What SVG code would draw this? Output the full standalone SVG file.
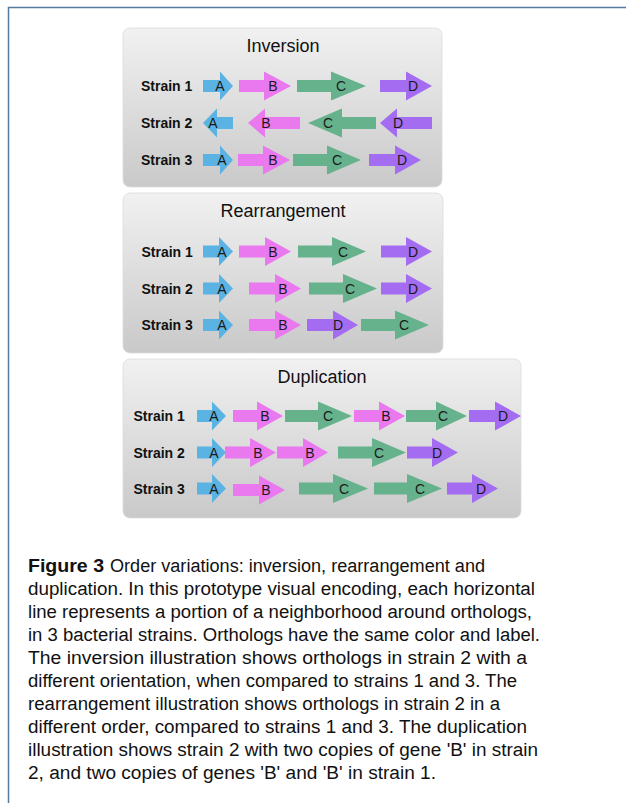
<svg xmlns="http://www.w3.org/2000/svg" width="626" height="803" viewBox="0 0 626 803">
<defs>
<linearGradient id="pg" x1="0" y1="0" x2="0" y2="1">
<stop offset="0" stop-color="#f1f1f1"/>
<stop offset="1" stop-color="#c9c9c9"/>
</linearGradient>
<style>
.panel{fill:url(#pg);stroke:#dcdcdc;stroke-width:0.8}
.title{font-family:"Liberation Sans",Arial,sans-serif;font-size:18px;fill:#111;text-anchor:middle}
.strain{font-family:"Liberation Sans",Arial,sans-serif;font-size:14px;font-weight:bold;fill:#111}
.lbl{font-family:"Liberation Sans",Arial,sans-serif;font-size:14px;fill:#1a1a1a;text-anchor:middle}
.A{fill:#5ab3e3}.B{fill:#ea78ef}.C{fill:#66b28c}.D{fill:#a46cf0}
.cap{font-family:"Liberation Sans",Arial,sans-serif;font-size:18px;fill:#111}
.capb{font-weight:bold}
.frame{stroke:#56799e;stroke-width:1.5;fill:none}
</style>
</defs>
<rect width="626" height="803" fill="#fff"/>
<path class="frame" d="M8.5,803 V7.5 H626"/>
<g id="connectors"/>

<g id="inversion">
<rect class="panel" x="123" y="28" width="319" height="159" rx="7"/>
<text class="title" x="283" y="52">Inversion</text>
<text class="strain" x="141" y="91">Strain 1</text>
<text class="strain" x="141" y="128">Strain 2</text>
<text class="strain" x="141" y="165">Strain 3</text>
<g id="inv-s1-A"><path class="A" d="M203,80V92H220V100.5L233,86L220,71.5V80Z"/><text class="lbl" x="220" y="91">A</text></g>
<g id="inv-s1-B"><path class="B" d="M239,80V92H264V100.5L291,86L264,71.5V80Z"/><text class="lbl" x="273" y="91">B</text></g>
<g id="inv-s1-C"><path class="C" d="M297,80V92H331V100.5L366,86L331,71.5V80Z"/><text class="lbl" x="341" y="91">C</text></g>
<g id="inv-s1-D"><path class="D" d="M380,80V92H406V100.5L432,86L406,71.5V80Z"/><text class="lbl" x="413" y="91">D</text></g>
<g id="inv-s2-A"><path class="A" d="M233,117V129H217V137.5L203,123L217,108.5V117Z"/><text class="lbl" x="213" y="128">A</text></g>
<g id="inv-s2-B"><path class="B" d="M300,117V129H265V137.5L248,123L265,108.5V117Z"/><text class="lbl" x="266" y="128">B</text></g>
<g id="inv-s2-C"><path class="C" d="M376,117V129H342V137.5L308,123L342,108.5V117Z"/><text class="lbl" x="328" y="128">C</text></g>
<g id="inv-s2-D"><path class="D" d="M432,117V129H397V137.5L380,123L397,108.5V117Z"/><text class="lbl" x="398" y="128">D</text></g>
<g id="inv-s3-A"><path class="A" d="M203,154V166H220V174.5L233,160L220,145.5V154Z"/><text class="lbl" x="222" y="165">A</text></g>
<g id="inv-s3-B"><path class="B" d="M238,154V166H263V174.5L290,160L263,145.5V154Z"/><text class="lbl" x="273" y="165">B</text></g>
<g id="inv-s3-C"><path class="C" d="M293,154V166H327V174.5L361,160L327,145.5V154Z"/><text class="lbl" x="337" y="165">C</text></g>
<g id="inv-s3-D"><path class="D" d="M369,154V166H395V174.5L421,160L395,145.5V154Z"/><text class="lbl" x="402" y="165">D</text></g>
</g>

<g id="rearrangement">
<rect class="panel" x="123" y="193" width="320" height="160" rx="7"/>
<text class="title" x="283" y="217">Rearrangement</text>
<text class="strain" x="141.5" y="256.5">Strain 1</text>
<text class="strain" x="141.5" y="293.5">Strain 2</text>
<text class="strain" x="141.5" y="330">Strain 3</text>
<g id="rea-s1-A"><path class="A" d="M203,245.5V257.5H219V266L233,251.5L219,237V245.5Z"/><text class="lbl" x="222" y="256.5">A</text></g>
<g id="rea-s1-B"><path class="B" d="M239,245.5V257.5H265V266L291,251.5L265,237V245.5Z"/><text class="lbl" x="273" y="256.5">B</text></g>
<g id="rea-s1-C"><path class="C" d="M298,245.5V257.5H332V266L366,251.5L332,237V245.5Z"/><text class="lbl" x="343" y="256.5">C</text></g>
<g id="rea-s1-D"><path class="D" d="M381,245.5V257.5H406V266L432,251.5L406,237V245.5Z"/><text class="lbl" x="413" y="256.5">D</text></g>
<g id="rea-s2-A"><path class="A" d="M203,282.5V294.5H219V303L233,288.5L219,274V282.5Z"/><text class="lbl" x="222" y="293.5">A</text></g>
<g id="rea-s2-B"><path class="B" d="M249,282.5V294.5H275V303L301,288.5L275,274V282.5Z"/><text class="lbl" x="283" y="293.5">B</text></g>
<g id="rea-s2-C"><path class="C" d="M309,282.5V294.5H343V303L377,288.5L343,274V282.5Z"/><text class="lbl" x="350" y="293.5">C</text></g>
<g id="rea-s2-D"><path class="D" d="M381,282.5V294.5H406V303L432,288.5L406,274V282.5Z"/><text class="lbl" x="413" y="293.5">D</text></g>
<g id="rea-s3-A"><path class="A" d="M203,319V331H219V339.5L233,325L219,310.5V319Z"/><text class="lbl" x="222" y="330">A</text></g>
<g id="rea-s3-B"><path class="B" d="M249,319V331H275V339.5L301,325L275,310.5V319Z"/><text class="lbl" x="283" y="330">B</text></g>
<g id="rea-s3-D"><path class="D" d="M307,319V331H333V339.5L358,325L333,310.5V319Z"/><text class="lbl" x="338" y="330">D</text></g>
<g id="rea-s3-C"><path class="C" d="M361,319V331H395V339.5L429,325L395,310.5V319Z"/><text class="lbl" x="404" y="330">C</text></g>
</g>

<g id="duplication">
<rect class="panel" x="123" y="359" width="398" height="159" rx="7"/>
<text class="title" x="322" y="383">Duplication</text>
<text class="strain" x="133.5" y="421">Strain 1</text>
<text class="strain" x="133.5" y="457.5">Strain 2</text>
<text class="strain" x="133.5" y="493.5">Strain 3</text>
<g id="dup-s1-A"><path class="A" d="M197,410V422H212V430.5L226,416L212,401.5V410Z"/><text class="lbl" x="214" y="421">A</text></g>
<g id="dup-s1-B1"><path class="B" d="M233,410V422H257V430.5L283,416L257,401.5V410Z"/><text class="lbl" x="265" y="421">B</text></g>
<g id="dup-s1-C1"><path class="C" d="M285,410V422H318V430.5L352,416L318,401.5V410Z"/><text class="lbl" x="328" y="421">C</text></g>
<g id="dup-s1-B2"><path class="B" d="M354,410V422H379V430.5L405,416L379,401.5V410Z"/><text class="lbl" x="386" y="421">B</text></g>
<g id="dup-s1-C2"><path class="C" d="M406,410V422H436V430.5L467,416L436,401.5V410Z"/><text class="lbl" x="443" y="421">C</text></g>
<g id="dup-s1-D"><path class="D" d="M469,410V422H495V430.5L521,416L495,401.5V410Z"/><text class="lbl" x="503" y="421">D</text></g>
<g id="dup-s2-A"><path class="A" d="M197,446.5V458.5H212V467L226,452.5L212,438V446.5Z"/><text class="lbl" x="214" y="457.5">A</text></g>
<g id="dup-s2-B1"><path class="B" d="M225,446.5V458.5H250V467L276,452.5L250,438V446.5Z"/><text class="lbl" x="258" y="457.5">B</text></g>
<g id="dup-s2-B2"><path class="B" d="M277,446.5V458.5H303V467L328,452.5L303,438V446.5Z"/><text class="lbl" x="310" y="457.5">B</text></g>
<g id="dup-s2-C"><path class="C" d="M338,446.5V458.5H372V467L406,452.5L372,438V446.5Z"/><text class="lbl" x="379" y="457.5">C</text></g>
<g id="dup-s2-D"><path class="D" d="M407,446.5V458.5H432V467L458,452.5L432,438V446.5Z"/><text class="lbl" x="437" y="457.5">D</text></g>
<g id="dup-s3-A"><path class="A" d="M197,482.5V494.5H212V503L226,488.5L212,474V482.5Z"/><text class="lbl" x="214" y="493.5">A</text></g>
<g id="dup-s3-B"><path class="B" d="M233,484V496H259V504.5L285,490L259,475.5V484Z"/><text class="lbl" x="266" y="495">B</text></g>
<g id="dup-s3-C1"><path class="C" d="M299,482.5V494.5H333V503L368,488.5L333,474V482.5Z"/><text class="lbl" x="344" y="493.5">C</text></g>
<g id="dup-s3-C2"><path class="C" d="M374,482.5V494.5H407V503L442,488.5L407,474V482.5Z"/><text class="lbl" x="420" y="493.5">C</text></g>
<g id="dup-s3-D"><path class="D" d="M447,482.5V494.5H472V503L498,488.5L472,474V482.5Z"/><text class="lbl" x="481" y="493.5">D</text></g>
</g>

<g id="caption">
<text class="cap capb" x="28" y="572" textLength="76" lengthAdjust="spacingAndGlyphs">Figure 3</text>
<text class="cap" x="110" y="572" textLength="375" lengthAdjust="spacingAndGlyphs">Order variations: inversion, rearrangement and</text>
<text class="cap" x="28" y="595" textLength="507" lengthAdjust="spacingAndGlyphs">duplication. In this prototype visual encoding, each horizontal</text>
<text class="cap" x="28" y="618" textLength="504" lengthAdjust="spacingAndGlyphs">line represents a portion of a neighborhood around orthologs,</text>
<text class="cap" x="28" y="641" textLength="512" lengthAdjust="spacingAndGlyphs">in 3 bacterial strains. Orthologs have the same color and label.</text>
<text class="cap" x="28" y="664" textLength="499" lengthAdjust="spacingAndGlyphs">The inversion illustration shows orthologs in strain 2 with a</text>
<text class="cap" x="28" y="687" textLength="489" lengthAdjust="spacingAndGlyphs">different orientation, when compared to strains 1 and 3. The</text>
<text class="cap" x="28" y="710" textLength="472" lengthAdjust="spacingAndGlyphs">rearrangement illustration shows orthologs in strain 2 in a</text>
<text class="cap" x="28" y="733" textLength="499" lengthAdjust="spacingAndGlyphs">different order, compared to strains 1 and 3. The duplication</text>
<text class="cap" x="28" y="756" textLength="510" lengthAdjust="spacingAndGlyphs">illustration shows strain 2 with two copies of gene 'B' in strain</text>
<text class="cap" x="28" y="779" textLength="408" lengthAdjust="spacingAndGlyphs">2, and two copies of genes 'B' and 'B' in strain 1.</text>
</g>
</svg>
